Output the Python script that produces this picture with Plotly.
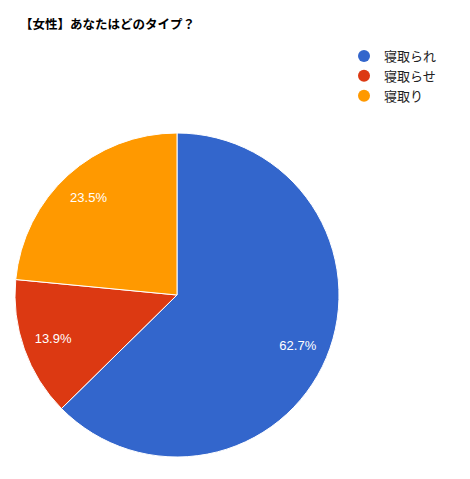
import plotly.graph_objects as go

# data
labels = ["寝取られ", "寝取らせ", "寝取り"]
values = [62.7, 13.9, 23.5]
colors = ["#3366cc", "#dc3912", "#ff9900"]

# page has an 8px body margin, so the figure is a bit smaller than the window
W, H = 462, 471

cx, cy, r = 169, 287, 162
pie_domain = dict(x=[(cx - r) / W, (cx + r) / W], y=[(H - cy - r) / H, (H - cy + r) / H])

fig = go.Figure()

# the slices
fig.add_trace(go.Pie(
    labels=labels,
    values=values,
    marker=dict(colors=colors, line=dict(color="white", width=1)),
    sort=False,
    direction="clockwise",
    rotation=0,
    textinfo="none",
    showlegend=False,
    hoverinfo="label+value",
    domain=pie_domain,
))

# transparent ring on top, just to put the labels further out like google charts
fig.add_trace(go.Pie(
    labels=labels,
    values=values,
    hole=0.62,
    marker=dict(colors=["rgba(0,0,0,0)"] * 3, line=dict(width=0)),
    sort=False,
    direction="clockwise",
    rotation=0,
    texttemplate="%{value:.1f}%",
    textposition="inside",
    insidetextorientation="horizontal",
    textfont=dict(family="Liberation Sans, Arial", size=13, color="white"),
    showlegend=False,
    hoverinfo="skip",
    domain=pie_domain,
))

# legend with round markers
for name, c in zip(labels, colors):
    fig.add_trace(go.Scatter(
        x=[None], y=[None], mode="markers", name=name,
        marker=dict(color=c, size=12, symbol="circle"),
    ))

fig.update_layout(
    width=W, height=H,
    margin=dict(l=0, r=0, t=0, b=0),
    paper_bgcolor="white",
    plot_bgcolor="white",
    title=dict(
        text="<b>【女性】あなたはどのタイプ？</b>",
        x=12 / W, xanchor="left",
        y=1 - 17 / H, yanchor="middle",
        font=dict(family="Noto Sans CJK JP", size=12.5, color="#000000"),
    ),
    legend=dict(
        x=336 / W, xanchor="left",
        y=1 - 33 / H, yanchor="top",
        font=dict(family="Noto Sans CJK JP", size=13, color="#222222"),
        itemsizing="constant",
        tracegroupgap=0,
        bgcolor="rgba(0,0,0,0)",
    ),
    xaxis=dict(visible=False),
    yaxis=dict(visible=False),
)

fig.write_html("out.html")
